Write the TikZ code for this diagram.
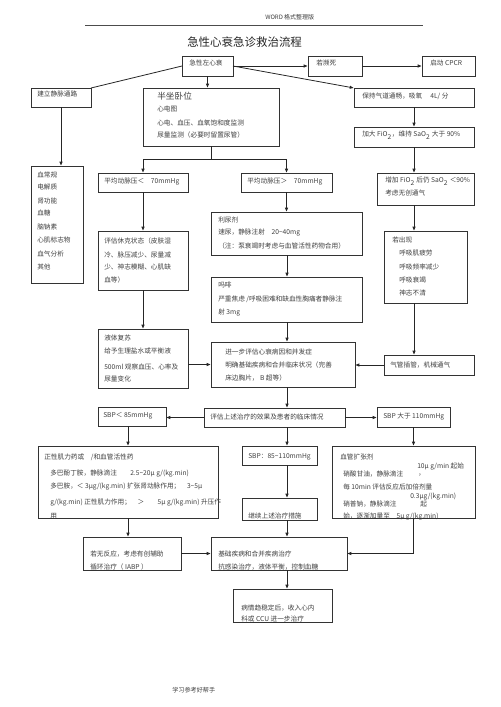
\documentclass[tikz,border=0pt]{standalone}
\usepackage{fontspec}
\setmainfont{Noto Sans CJK SC}
\usetikzlibrary{arrows.meta}
\newcounter{tn}
\newcommand\mybox[5]{\node[box,minimum width={(#4-#2)*0.75pt},minimum height={(#5-#3)*0.75pt}] (#1) at (#2,#3) {};}
\newcommand\tline[3]{\stepcounter{tn}\node[txt] (t\arabic{tn}) at (#1,#2) {#3};}
\begin{document}
\begin{tikzpicture}[x=0.75pt,y=-0.75pt,
  box/.style={draw=black!80,line width=0.6pt,rectangle,inner sep=0pt,outer sep=0pt,anchor=north west},
  txt/.style={anchor=west,inner sep=0pt,text=black!75,font=\fontsize{5pt}{6pt}\selectfont},
  arr/.style={draw=black!85,line width=0.6pt,-{Latex[length=3.2pt,width=2.6pt]}},
  ln/.style={draw=black!85,line width=0.6pt}]
\useasboundingbox[fill=white] (0,0) rectangle (500,707);
% header
\node[txt,font=\fontsize{4.5pt}{5pt}\selectfont] (hdr) at (265,17) {WORD 格式整理版};
\draw[black!70,line width=0.5pt] (85,25) -- (423,25);
\node[txt,font=\fontsize{8.6pt}{10pt}\selectfont,text=black!85] (title) at (187,42) {急性心衰急诊救治流程};
% boxes
\mybox{acute}{182}{56}{233}{76}
\mybox{dying}{308}{56}{362}{76}
\mybox{cpcr}{422}{56}{475}{76}
\mybox{iv}{31}{88}{91}{107}
\mybox{labs}{31}{166}{83}{283}
\mybox{semi}{143}{88}{279}{146}
\mybox{keep}{354}{88}{474}{107}
\mybox{fio}{354}{127}{474}{147}
\mybox{nifio}{377}{173}{474}{205}
\mybox{low}{98}{173}{188}{192}
\mybox{high}{241}{173}{332}{192}
\mybox{shock}{98}{231}{188}{290}
\mybox{fluid}{98}{329}{188}{388}
\mybox{diur}{211}{212}{362}{255}
\mybox{morph}{211}{277}{362}{322}
\mybox{further}{211}{342}{355}{387}
\mybox{appear}{384}{231}{467}{303}
\mybox{intub}{384}{355}{474}{375}
\mybox{eval}{204}{408}{345}{427}
\mybox{sbplow}{98}{407}{166}{426}
\mybox{sbphigh}{377}{407}{450}{427}
\mybox{sbpmid}{242}{446}{317}{465}
\mybox{cont}{242}{498}{317}{520}
\mybox{inotrope}{38}{446}{218}{518}
\mybox{vaso}{332}{446}{475}{518}
\mybox{noresp}{83}{537}{181}{570}
\mybox{basic}{211}{537}{347}{570}
\mybox{stable}{233}{589}{332}{622}
\coordinate (c287) at (287,0);
\coordinate (sp) at (211,159);
% texts
\tline{189}{63}{急性左心衰}
\tline{316}{63}{若濒死}
\tline{430}{63}{启动 CPCR}
\tline{37}{94}{建立静脉通路}
\tline{37}{175}{血常规}
\tline{37}{187}{电解质}
\tline{37}{201}{肾功能}
\tline{37}{213}{血糖}
\tline{37}{227}{脑钠素}
\tline{37}{240}{心肌标志物}
\tline{37}{254}{血气分析}
\tline{37}{267}{其他}
\node[txt,font=\fontsize{6.5pt}{7pt}\selectfont] (semit) at (157,96) {半坐卧位};
\tline{157}{109}{心电图}
\tline{157}{123}{心电、血压、血氧饱和度监测}
\tline{157}{135}{尿量监测（必要时留置尿管）}
\tline{362}{96}{保持气道通畅，吸氧　 4L/ 分}
\tline{362}{135}{加大 FiO\textsubscript{2}，维持 SaO\textsubscript{2} 大于 90\%}
\tline{385}{181}{增加 FiO\textsubscript{2} 后仍 SaO\textsubscript{2} ＜90\%}
\tline{385}{193}{考虑无创通气}
\tline{104}{182}{平均动脉压＜　70mmHg}
\tline{247}{182}{平均动脉压＞　70mmHg}
\tline{104}{241}{评估休克状态（皮肤湿}
\tline{104}{255}{冷、脉压减少、尿量减}
\tline{104}{267}{少、神志模糊、心肌缺}
\tline{104}{280}{血等）}
\tline{104}{338}{液体复苏}
\tline{104}{351}{给予生理盐水或平衡液}
\tline{104}{367}{500ml  观察血压、心率及}
\tline{104}{379}{尿量变化}
\tline{218}{220}{利尿剂}
\tline{218}{233}{速尿，静脉注射　20\textasciitilde40mg}
\tline{218}{246}{（注：泵衰竭时考虑与血管活性药物合用）}
\tline{218}{285}{吗啡}
\tline{218}{299}{严重焦虑 /呼吸困难和缺血性胸痛者静脉注}
\tline{218}{313}{射 3mg}
\tline{225}{352}{进一步评估心衰病因和并发症}
\tline{225}{365}{明确基础疾病和合并临床状况（完善}
\tline{225}{378}{床边胸片，  B 超等）}
\tline{392}{240}{若出现}
\tline{399}{253}{呼吸肌疲劳}
\tline{399}{267}{呼吸频率减少}
\tline{399}{280}{呼吸衰竭}
\tline{399}{293}{神志不清}
\tline{390}{365}{气管插管，机械通气}
\tline{210}{417}{评估上述治疗的效果及患者的临床情况}
\tline{103}{416}{SBP＜ 85mmHg}
\tline{383}{417}{SBP 大于 110mmHg}
\tline{248}{457}{SBP：85\textasciitilde110mmHg}
\tline{248}{516}{继续上述治疗措施}
\tline{44}{457}{正性肌力药或　/和血管活性药}
\tline{50}{474}{多巴酚丁胺，静脉滴注　　2.5\textasciitilde20μ g/(kg.min)}
\tline{50}{487}{多巴胺，＜ 3μg/(kg.min) 扩张肾动脉作用；　3\textasciitilde5μ}
\tline{50}{503}{g/(kg.min) 正性肌力作用；　＞　　5μ g/(kg.min) 升压作}
\tline{50}{516}{用}
\tline{340}{457}{血管扩张剂}
\tline{417}{467}{10μ g/min 起始}
\tline{343}{474}{硝酸甘油，静脉滴注}
\tline{418}{475}{，}
\tline{343}{487}{每 10min 评估反应后加倍剂量}
\tline{410}{497}{0.3μg/(kg.min)}
\tline{343}{504}{硝普钠，静脉滴注}
\tline{420}{504}{起}
\tline{343}{517}{始，逐渐加量至　5μ g/(kg.min)}
\tline{90}{554}{若无反应，考虑有创辅助}
\tline{90}{567}{循环治疗（ IABP ）}
\tline{218}{554}{基础疾病和合并疾病治疗}
\tline{218}{567}{抗感染治疗，液体平衡，控制血糖}
\tline{241}{608}{病情趋稳定后，收入心内}
\tline{241}{619}{科或 CCU 进一步治疗}
\node[txt,font=\fontsize{4.6pt}{5pt}\selectfont] (ftr) at (172,690) {学习参考好帮手};
% connectors
\draw[arr] (acute.east) -- (dying.west);
\draw[arr] (dying.east) -- (cpcr.west);
\draw[ln] (acute.west) -- (iv.north east);
\draw[arr] (acute.east) -- (keep.north west);
\draw[arr] (acute.south) -- (acute.south |- semi.north);
\draw[arr] (iv.south) -- (iv.south |- labs.north);
\draw[ln] (semi.south) -- (sp);
\draw[arr] (sp) -| (low.north);
\draw[arr] (sp) -| (high.north);
\draw[arr] (low.south) -- (shock.north);
\draw[arr] (shock.south) -- (fluid.north);
\draw[arr] (high.south) -- (high.south |- diur.north);
\draw[arr] (diur.south -| c287) -- (morph.north -| c287);
\draw[arr] (morph.south -| c287) -- (further.north -| c287);
\draw[arr] (fluid.east |- further.west) -- (further.west);
\draw[arr] (keep.south) -- (fio.north);
\draw[arr] (fio.south) -- (fio.south |- nifio.north);
\draw[arr] (nifio.south -| fio.south) -- (appear.north -| fio.south);
\draw[arr] (appear.south -| fio.south) -- (intub.north -| fio.south);
\draw[arr] (intub.west) -- (intub.west -| further.east);
\draw[arr] (further.south -| c287) -- (eval.north -| c287);
\draw[arr] (eval.west) -- (eval.west -| sbplow.east);
\draw[arr] (eval.east) -- (eval.east -| sbphigh.west);
\draw[arr] (eval.south -| c287) -- (sbpmid.north -| c287);
\draw[arr] (sbpmid.south -| c287) -- (cont.north -| c287);
\draw[arr] (cont.south -| c287) -- (basic.north -| c287);
\draw[arr] (inotrope.north |- sbplow.south) -- (inotrope.north);
\draw[arr] (inotrope.south) -- (inotrope.south |- noresp.north);
\draw[arr] (noresp.east) -- (noresp.east -| basic.west);
\draw[arr] (sbphigh.south) -- (sbphigh.south |- vaso.north);
\draw[arr] (vaso.south -| sbphigh.south) |- (basic.east);
\draw[arr] (basic.south -| c287) -- (stable.north -| c287);
\end{tikzpicture}
\end{document}
